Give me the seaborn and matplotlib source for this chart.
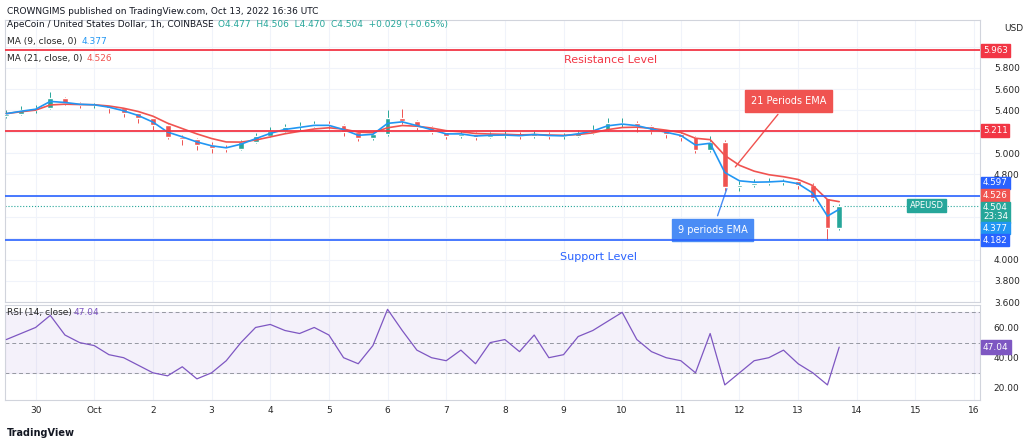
import numpy as np
import pandas as pd
import matplotlib.pyplot as plt
import seaborn as sns

# price path, one value every 6 hours (day 0 = Sep 30)
DAYS = [-0.5, -0.25, 0.0, 0.25, 0.5, 0.75, 1.0, 1.25, 1.5, 1.75, 2.0, 2.25, 2.5, 2.75,
        3.0, 3.25, 3.5, 3.75, 4.0, 4.25, 4.5, 4.75, 5.0, 5.25, 5.5, 5.75, 6.0, 6.25,
        6.5, 6.75, 7.0, 7.25, 7.5, 7.75, 8.0, 8.25, 8.5, 8.75, 9.0, 9.25, 9.5, 9.75,
        10.0, 10.25, 10.5, 10.75, 11.0, 11.25, 11.5, 11.75, 12.0, 12.25, 12.5, 12.75,
        13.0, 13.25, 13.5, 13.7]
CLOSE = [5.37, 5.40, 5.42, 5.52, 5.47, 5.45, 5.45, 5.42, 5.38, 5.33, 5.26, 5.15, 5.13, 5.08,
         5.05, 5.04, 5.10, 5.16, 5.21, 5.24, 5.25, 5.27, 5.26, 5.20, 5.14, 5.18, 5.33, 5.30,
         5.24, 5.20, 5.16, 5.18, 5.15, 5.17, 5.17, 5.16, 5.18, 5.16, 5.16, 5.19, 5.22, 5.28,
         5.28, 5.25, 5.21, 5.18, 5.15, 5.03, 5.10, 4.68, 4.70, 4.72, 4.73, 4.74, 4.70, 4.58,
         4.30, 4.504]
HIGH = [5.40, 5.44, 5.45, 5.57, 5.53, 5.48, 5.47, 5.45, 5.42, 5.38, 5.33, 5.27, 5.17, 5.14,
        5.10, 5.08, 5.12, 5.19, 5.24, 5.27, 5.29, 5.30, 5.30, 5.27, 5.21, 5.21, 5.40, 5.41,
        5.31, 5.25, 5.22, 5.21, 5.20, 5.20, 5.21, 5.20, 5.21, 5.20, 5.19, 5.22, 5.26, 5.33,
        5.33, 5.30, 5.26, 5.22, 5.20, 5.16, 5.16, 5.12, 4.74, 4.76, 4.77, 4.76, 4.76, 4.72,
        4.58, 4.52]
LOW = [5.33, 5.36, 5.38, 5.41, 5.45, 5.42, 5.42, 5.38, 5.34, 5.28, 5.22, 5.13, 5.08, 5.03,
       5.00, 5.01, 5.03, 5.09, 5.15, 5.20, 5.22, 5.24, 5.23, 5.16, 5.11, 5.12, 5.16, 5.27,
       5.22, 5.18, 5.13, 5.14, 5.12, 5.14, 5.14, 5.13, 5.14, 5.13, 5.13, 5.15, 5.18, 5.21,
       5.24, 5.20, 5.18, 5.14, 5.11, 5.00, 5.01, 4.64, 4.64, 4.68, 4.70, 4.70, 4.66, 4.55,
       4.18, 4.28]
RSI = [52, 56, 60, 68, 55, 50, 48, 42, 40, 35, 30, 28, 34, 26,
       30, 38, 50, 60, 62, 58, 56, 60, 55, 40, 36, 48, 72, 58,
       45, 40, 38, 45, 36, 50, 52, 44, 55, 40, 42, 54, 58, 64,
       70, 52, 44, 40, 38, 30, 56, 22, 30, 38, 40, 45, 36, 30,
       22, 47]

RESISTANCE = [5.963, 5.211]
SUPPORT = [4.597, 4.182]
DAY_TICKS = list(range(17))
DAY_LABELS = ["30", "Oct", "2", "3", "4", "5", "6", "7", "8", "9", "10", "11", "12", "13", "14", "15", "16"]
PRICE_TICKS = [3.6, 3.8, 4.0, 4.2, 4.4, 4.6, 4.8, 5.0, 5.2, 5.4, 5.6, 5.8, 6.0]
RSI_TICKS = [20, 40, 60]

RED = "#f23645"
BLUE = "#2962ff"
UP = "#26a69a"
MA9C = "#2196f3"
MA21C = "#f05350"

sns.set_theme(style="white")
plt.rcParams["font.family"] = "DejaVu Sans"
df = pd.DataFrame({"day": DAYS, "close": CLOSE, "high": HIGH, "low": LOW, "rsi": RSI})
df["open"] = df["close"].shift(1).fillna(df["close"].iloc[0] - 0.02)
df["ma9"] = df["close"].ewm(span=2).mean()
df["ma21"] = df["close"].ewm(span=5).mean()

fig = plt.figure(figsize=(10.24, 4.43), dpi=100)
ax = fig.add_axes([0.005, 0.318, 0.952, 0.637])
ar = fig.add_axes([0.005, 0.097, 0.952, 0.215], sharex=ax)

for a in (ax, ar):
    for d in DAY_TICKS:
        a.axvline(d, color="#f0f3fa", lw=0.8, zorder=0)
    for s in a.spines.values():
        s.set_color("#d1d4dc")
        s.set_linewidth(0.8)
for p in PRICE_TICKS:
    ax.axhline(p, color="#f0f3fa", lw=0.8, zorder=0)

w = 0.1
for _, r in df.iterrows():
    c = UP if r["close"] >= r["open"] else "#ef5350"
    ax.vlines(r["day"], r["low"], r["high"], color=c, lw=0.7, zorder=2)
    ax.bar(r["day"], abs(r["close"] - r["open"]) or 0.004, bottom=min(r["close"], r["open"]),
           width=w, color=c, zorder=3)

sns.lineplot(data=df, x="day", y="ma21", ax=ax, color=MA21C, lw=1.2, zorder=4)
sns.lineplot(data=df, x="day", y="ma9", ax=ax, color=MA9C, lw=1.2, zorder=4)

for v in RESISTANCE:
    ax.axhline(v, color=RED, lw=1.3, zorder=5)
for v in SUPPORT:
    ax.axhline(v, color=BLUE, lw=1.2, zorder=5)
ax.axhline(CLOSE[-1], color=UP, lw=0.8, ls=":", zorder=1)

ax.set_xlim(-0.52, 16.1)
ax.set_ylim(3.62, 6.25)
ax.yaxis.tick_right()
ax.set_yticks([3.6, 3.8, 4.0, 4.8, 5.0, 5.4, 5.6, 5.8])
ax.set_yticklabels([f"{t:.3f}" for t in [3.6, 3.8, 4.0, 4.8, 5.0, 5.4, 5.6, 5.8]], fontsize=6.5)
ax.tick_params(axis="y", length=0, pad=10)
ax.tick_params(axis="x", labelbottom=False, length=0)
ax.set_xlabel("")
ax.set_ylabel("")
ax.text(1.035, 0.985, "USD", transform=ax.transAxes, fontsize=6.5, va="top", ha="center")

def tag(a, y, txt, color, fc="white"):
    a.annotate(txt, xy=(1.003, y), xycoords=("axes fraction", "data"), fontsize=6.3,
               color=fc, va="center", ha="left", linespacing=0.95,
               bbox=dict(boxstyle="square,pad=0.2", fc=color, ec=color))

tag(ax, 5.963, "5.963", RED)
tag(ax, 5.211, "5.211", RED)
tag(ax, 4.72, "4.597", BLUE)
tag(ax, 4.60, "4.526", MA21C)
tag(ax, 4.445, "4.504\n23:34", UP)
tag(ax, 4.295, "4.377", MA9C)
tag(ax, 4.182, "4.182", BLUE)
ax.text(14.9, 4.504, "APEUSD", fontsize=6, color="white", va="center", ha="left",
        bbox=dict(boxstyle="square,pad=0.25", fc=UP, ec=UP))

ax.text(9.8, 5.87, "Resistance Level", color=RED, fontsize=8, ha="center", va="center")
ax.text(9.6, 4.02, "Support Level", color=BLUE, fontsize=8, ha="center", va="center")
ax.annotate("21 Periods EMA", xy=(11.9, 4.85), xytext=(12.2, 5.49), fontsize=7, color="white",
            ha="left", va="center",
            bbox=dict(boxstyle="square,pad=0.6", fc=MA21C, ec=MA21C),
            arrowprops=dict(arrowstyle="-", color=MA21C, lw=1))
ax.annotate("9 periods EMA", xy=(11.8, 4.69), xytext=(10.95, 4.28), fontsize=7, color="white",
            ha="left", va="center",
            bbox=dict(boxstyle="square,pad=0.6", fc="#4a8cf5", ec="#4a8cf5"),
            arrowprops=dict(arrowstyle="-", color="#4a8cf5", lw=1))

ax.text(0.002, 1.0, "ApeCoin / United States Dollar, 1h, COINBASE", transform=ax.transAxes,
        fontsize=6.5, va="top", color="#131722")
ax.text(0.218, 1.0, "O4.477  H4.506  L4.470  C4.504  +0.029 (+0.65%)", transform=ax.transAxes,
        fontsize=6.5, va="top", color=UP)
ax.text(0.002, 0.94, "MA (9, close, 0)", transform=ax.transAxes, fontsize=6.5, va="top")
ax.text(0.078, 0.94, "4.377", transform=ax.transAxes, fontsize=6.5, va="top", color=MA9C)
ax.text(0.002, 0.88, "MA (21, close, 0)", transform=ax.transAxes, fontsize=6.5, va="top")
ax.text(0.084, 0.88, "4.526", transform=ax.transAxes, fontsize=6.5, va="top", color=MA21C)

# RSI pane
ar.axhspan(30, 70, color="#7e57c2", alpha=0.08, zorder=0)
for v in (70, 50, 30):
    ar.axhline(v, color="#9598a1", lw=0.7, ls=(0, (4, 3)), zorder=1)
sns.lineplot(data=df, x="day", y="rsi", ax=ar, color="#7e57c2", lw=0.9, zorder=3)
ar.set_ylim(12, 75)
ar.yaxis.tick_right()
ar.set_yticks(RSI_TICKS)
ar.set_yticklabels([f"{t:.2f}" for t in RSI_TICKS], fontsize=6.5)
ar.tick_params(axis="y", length=0, pad=10)
ar.set_xticks(DAY_TICKS)
ar.set_xticklabels(DAY_LABELS, fontsize=6.5)
ar.tick_params(axis="x", length=0, pad=4)
ar.set_xlabel("")
ar.set_ylabel("")
ar.text(0.002, 0.97, "RSI (14, close)", transform=ar.transAxes, fontsize=6.5, va="top")
ar.text(0.07, 0.97, "47.04", transform=ar.transAxes, fontsize=6.5, va="top", color="#7e57c2")
ar.annotate("47.04", xy=(1.003, 47.04), xycoords=("axes fraction", "data"), fontsize=6.5,
            color="white", va="center", bbox=dict(boxstyle="square,pad=0.25", fc="#7e57c2", ec="#7e57c2"))

fig.text(0.007, 0.985, "CROWNGIMS published on TradingView.com, Oct 13, 2022 16:36 UTC",
         fontsize=6.5, va="top", color="#131722")
fig.text(0.007, 0.012, "TradingView", fontsize=7, fontweight="bold", va="bottom", color="#131722")

fig.savefig("out.png", dpi=100)
